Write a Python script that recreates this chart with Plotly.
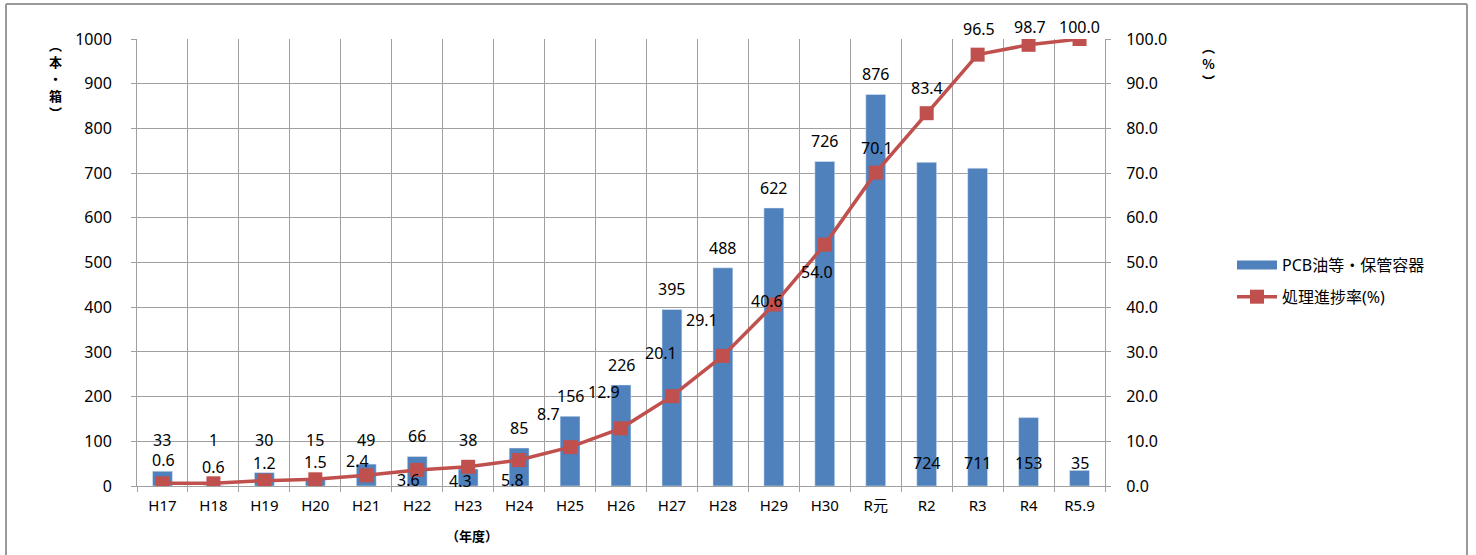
import plotly.graph_objects as go

# ---- data ----
categories = ["H17", "H18", "H19", "H20", "H21", "H22", "H23", "H24", "H25", "H26",
              "H27", "H28", "H29", "H30", "R元", "R2", "R3", "R4", "R5.9"]
bar_values = [33, 1, 30, 15, 49, 66, 38, 85, 156, 226, 395, 488, 622, 726, 876, 724, 711, 153, 35]
rate_values = [0.6, 0.6, 1.2, 1.5, 2.4, 3.6, 4.3, 5.8, 8.7, 12.9, 20.1, 29.1, 40.6, 54.0,
               70.1, 83.4, 96.5, 98.7, 100.0]
bar_name = "PCB油等・保管容器"
line_name = "処理進捗率(%)"

# ---- label placement (style only) ----
bar_label_mode = ["above"] * 15 + ["base"] * 4
line_label_offsets = [(1, -23), (0, -16), (0, -18), (0, -17), (-9, -14), (-9, 10), (-8, 14),
                      (-7, 20), (-22, -33), (-17, -36), (-11, -43), (-21, -36), (-7, -4),
                      (-8, 27), (1, -25), (0, -25), (1, -26), (1, -18), (0, -12)]

W, H = 1476, 555
ML, MR, MT, MB = 137, 371, 39, 69
PW, PH = W - ML - MR, H - MT - MB


def px(xp):
    return (xp - ML) / PW


def py(yp):
    return (H - MB - yp) / PH


FONT = "Noto Sans, Noto Sans CJK JP, sans-serif"
CJK = "Noto Sans CJK JP"
BLUE = "#4F81BD"
RED = "#C0504D"
GRID = "#A0A0A0"

fig = go.Figure()
fig.add_trace(go.Bar(x=categories, y=bar_values, name=bar_name, marker_color=BLUE,
                     showlegend=False, legendgroup="a", yaxis="y"))
# legend proxy for the bar series (flat wide swatch)
fig.add_trace(go.Scatter(x=[categories[0]], y=[None], mode="lines", name=bar_name,
                         line=dict(color=BLUE, width=9), legendgroup="a"))
fig.add_trace(go.Scatter(x=categories, y=rate_values, name=line_name, mode="lines+markers",
                         line=dict(color=RED, width=3.5),
                         marker=dict(symbol="square", size=14, color=RED),
                         yaxis="y2", legendgroup="b"))

annotations = []
for c, v, m in zip(categories, bar_values, bar_label_mode):
    y = max(v, 58) + 45 if m == "above" else 51
    annotations.append(dict(x=c, y=y, xref="x", yref="y", text=str(v), showarrow=False,
                            xanchor="center", yanchor="middle",
                            font=dict(size=16, color="black", family=FONT)))
for c, p, (dx, dy) in zip(categories, rate_values, line_label_offsets):
    annotations.append(dict(x=c, y=p, xref="x", yref="y2", text=f"{p:.1f}", showarrow=False,
                            xshift=dx, yshift=-dy, xanchor="center", yanchor="middle",
                            font=dict(size=16, color="black", family=FONT)))

# axis titles (stacked vertically)
annotations.append(dict(x=px(55), y=py(78.5), xref="paper", yref="paper",
                        text="<b>︵<br>本<br>・<br>箱<br>︶</b>", showarrow=False,
                        xanchor="center", yanchor="middle", align="center",
                        font=dict(size=13, color="black", family=CJK)))
annotations.append(dict(x=px(1208), y=py(63), xref="paper", yref="paper",
                        text="<b>︵<br>%<br>︶</b>", showarrow=False,
                        xanchor="center", yanchor="middle", align="center",
                        font=dict(size=13, color="black", family=CJK)))
annotations.append(dict(x=px(472), y=py(535), xref="paper", yref="paper",
                        text="<b>（年度）</b>", showarrow=False, xanchor="center", yanchor="middle",
                        font=dict(size=13, color="black", family=CJK)))

BORDER = dict(color="#999999", width=2)
shapes = [
    dict(type="line", xref="paper", yref="paper", x0=px(6), x1=px(6), y0=py(4), y1=py(600), line=BORDER),
    dict(type="line", xref="paper", yref="paper", x0=px(6), x1=px(1467), y0=py(4), y1=py(4), line=BORDER),
    dict(type="line", xref="paper", yref="paper", x0=px(1467), x1=px(1467), y0=py(4), y1=py(600), line=BORDER),
]

fig.update_layout(
    width=W, height=H,
    margin=dict(l=ML, r=MR, t=MT, b=MB, autoexpand=False),
    paper_bgcolor="white", plot_bgcolor="white",
    font=dict(family=FONT, size=16, color="black"),
    bargap=0.61,
    xaxis=dict(type="category", tickson="boundaries", showgrid=True, gridcolor=GRID,
               gridwidth=1, ticks="outside", ticklen=5, tickcolor=GRID, showline=True,
               linecolor=GRID, linewidth=1, tickfont=dict(size=15), ticklabelstandoff=6,
               range=[-0.5, len(categories) - 0.5], categoryorder="array",
               categoryarray=categories),
    yaxis=dict(range=[0, 1000], dtick=100, showgrid=True, gridcolor=GRID, gridwidth=1,
               ticks="outside", ticklen=5, tickcolor=GRID, showline=True, linecolor=GRID,
               tickfont=dict(size=16), ticklabelstandoff=16, zeroline=False),
    yaxis2=dict(range=[0, 100], dtick=10, tickformat=".1f", overlaying="y", side="right",
                showgrid=False, ticks="outside", ticklen=5, tickcolor=GRID, showline=True,
                linecolor=GRID, tickfont=dict(size=16), ticklabelstandoff=12, zeroline=False),
    legend=dict(x=px(1232), y=py(248), xanchor="left", yanchor="top", font=dict(size=16),
                tracegroupgap=8, itemwidth=40, bgcolor="rgba(0,0,0,0)"),
    annotations=annotations,
    shapes=shapes,
)

fig.write_html("out.html", config={"displayModeBar": False},
               post_script="document.body.style.margin='0';document.body.style.overflow='hidden';")
